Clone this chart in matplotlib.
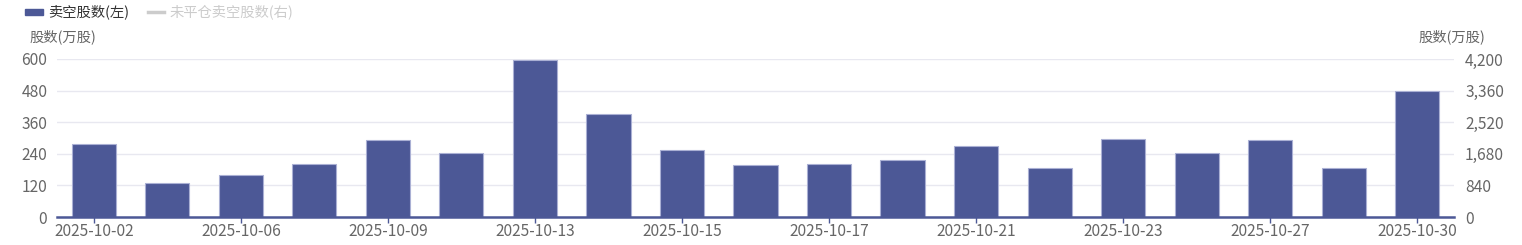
import matplotlib.pyplot as plt
from matplotlib.patches import Rectangle
from matplotlib.lines import Line2D

plt.rcParams['font.family'] = ['Noto Sans CJK SC', 'DejaVu Sans']

dates = ['2025-10-02', '2025-10-03', '2025-10-06', '2025-10-08', '2025-10-09',
         '2025-10-10', '2025-10-13', '2025-10-14', '2025-10-15', '2025-10-16',
         '2025-10-17', '2025-10-20', '2025-10-21', '2025-10-22', '2025-10-23',
         '2025-10-24', '2025-10-27', '2025-10-28', '2025-10-30']
short_vol = [277, 129, 160, 203, 294, 244, 596, 391, 254, 196,
             203, 215, 268, 186, 296, 243, 294, 186, 477]
left_ticks = [0, 120, 240, 360, 480, 600]
right_ticks = [0, 840, 1680, 2520, 3360, 4200]

BAR = '#4c5896'
GRID = '#e8e8f0'
TXT = '#666666'
NUM_FS = 11.2
CJK_FS = 10.3

fig = plt.figure(figsize=(15.22, 2.45), dpi=100)
W, H = 1522, 245
ax = fig.add_axes([57 / W, 1 - 217 / H, (1454 - 57) / W, (217 - 59) / H])

x = range(len(dates))
ax.bar(x, short_vol, width=0.6, color=BAR, edgecolor='#aab0d4', linewidth=0.8, zorder=3)
ax.set_xlim(-0.5, len(dates) - 0.5)
ax.set_ylim(0, 600)
ax.set_yticks(left_ticks)
ax.set_yticklabels([str(v) for v in left_ticks])
ax.grid(axis='y', color=GRID, linewidth=1, zorder=0)
ax.set_xticks(list(x)[::2])
ax.set_xticklabels(dates[::2])

for s in ['top', 'right', 'left']:
    ax.spines[s].set_visible(False)
ax.spines['bottom'].set_color(BAR)
ax.spines['bottom'].set_linewidth(1.8)
ax.spines['bottom'].set_zorder(4)
ax.tick_params(axis='x', colors=BAR, length=4, width=1, labelcolor=TXT, labelsize=NUM_FS, pad=0)
ax.tick_params(axis='y', length=0, labelcolor=TXT, labelsize=NUM_FS, pad=7)

ax2 = ax.twinx()
ax2.set_ylim(0, 4200)
ax2.set_yticks(right_ticks)
ax2.set_yticklabels([f'{v:,}' for v in right_ticks])
for s in ax2.spines.values():
    s.set_visible(False)
ax2.tick_params(axis='y', length=0, labelcolor=TXT, labelsize=NUM_FS, pad=8)

# axis titles
fig.text(29 / W, 1 - 37 / H, '股数(万股)', fontsize=CJK_FS, color=TXT, va='center', ha='left')
fig.text(1485 / W, 1 - 37 / H, '股数(万股)', fontsize=CJK_FS, color=TXT, va='center', ha='right')

# legend
fig.add_artist(Rectangle((25 / W, 1 - 15 / H), 18 / W, 6 / H, color=BAR, transform=fig.transFigure))
fig.text(48 / W, 1 - 12 / H, '卖空股数(左)', fontsize=CJK_FS, color='#333333', va='center', ha='left')
fig.add_artist(Line2D([148 / W, 164 / W], [1 - 12 / H, 1 - 12 / H], color='#cccccc', linewidth=2.5,
                      transform=fig.transFigure))
fig.text(170 / W, 1 - 12 / H, '未平仓卖空股数(右)', fontsize=CJK_FS, color='#cccccc', va='center', ha='left')

fig.savefig('out.png', dpi=100)
